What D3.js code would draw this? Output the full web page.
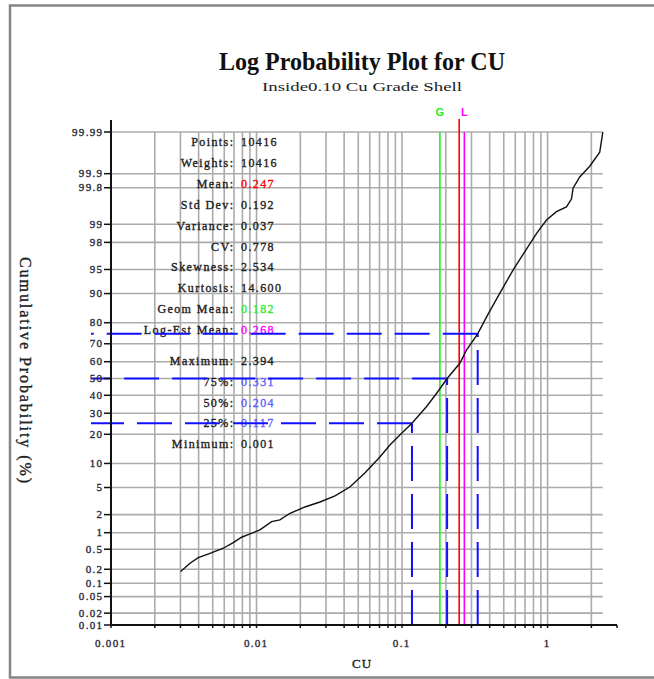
<!DOCTYPE html>
<html>
<head>
<meta charset="utf-8">
<script src="https://cdn.jsdelivr.net/npm/d3@7"></script>
<style>
  html, body { margin: 0; padding: 0; background: #fff; }
  svg { display: block; }
  text { font-family: "Liberation Serif", "Times New Roman", serif; }
  .heavy { stroke-width: 0.35; paint-order: normal; }
</style>
</head>
<body>
<svg id="chart" width="654" height="679"></svg>
<script>
// ---- data ---------------------------------------------------------------
// CU grade (x) against cumulative probability in percent (y)
const cuValues = [0.00301, 0.00349, 0.00398, 0.00479, 0.00591, 0.00692, 0.0079, 0.00901,
  0.01055, 0.0127, 0.01448, 0.017, 0.0215, 0.0273, 0.0346, 0.0438, 0.0555, 0.0704,
  0.0825, 0.0966, 0.117, 0.147, 0.173, 0.204, 0.2495, 0.277, 0.331, 0.381, 0.47,
  0.579, 0.716, 0.843, 0.983, 1.151, 1.348, 1.459, 1.497, 1.664, 1.949, 2.283, 2.38, 2.394];
const cumPercent = [0.18, 0.266, 0.344, 0.418, 0.522, 0.663, 0.831, 0.951,
  1.116, 1.54, 1.643, 2.10, 2.63, 3.12, 3.82, 5.08, 7.71, 11.8,
  15.8, 19.7, 25, 33.5, 41.2, 50, 59.1, 66.6, 75, 82.4, 90.1,
  94.9, 97.46, 98.59, 99.16, 99.41, 99.52, 99.66, 99.795, 99.882, 99.932, 99.968, 99.988, 99.99];

const probTicks = [99.99, 99.9, 99.8, 99, 98, 95, 90, 80, 70, 60, 50, 40, 30, 20, 10, 5, 2, 1, 0.5, 0.2, 0.1, 0.05, 0.02, 0.01];
const probTickLabels = ["99.99", "99.9", "99.8", "99", "98", "95", "90", "80", "70", "60", "50", "40", "30", "20", "10", "5", "2", "1", "0.5", "0.2", "0.1", "0.05", "0.02", "0.01"];
const cuTicks = [0.001, 0.01, 0.1, 1];
const cuTickLabels = ["0.001", "0.01", "0.1", "1"];

const statLabels = ["Points:", "Weights:", "Mean:", "Std Dev:", "Variance:", "CV:", "Skewness:", "Kurtosis:", "Geom Mean:", "Log-Est Mean:"];
const statValues = ["10416", "10416", "0.247", "0.192", "0.037", "0.778", "2.534", "14.600", "0.182", "0.268"];
const statColors = ["#222", "#222", "#ff0000", "#222", "#222", "#222", "#222", "#222", "#33ee33", "#ff00ff"];

const pctLabels = ["Maximum:", "75%:", "50%:", "25%:", "Minimum:"];
const pctValues = ["2.394", "0.331", "0.204", "0.117", "0.001"];
const pctColors = ["#222", "#6060ff", "#6060ff", "#6060ff", "#222"];

// quartile guide lines (value, cumulative percent)
const quartileValues = [0.117, 0.204, 0.331];
const quartilePercents = [25, 50, 75];

const meanValue = 0.247, geomMean = 0.182, logEstMean = 0.268, maxValue = 2.394;

// ---- helpers ------------------------------------------------------------
// inverse standard normal CDF (Acklam)
function probit(p) {
  const a = [-3.969683028665376e+01, 2.209460984245205e+02, -2.759285104469687e+02, 1.383577518672690e+02, -3.066479806614716e+01, 2.506628277459239e+00];
  const b = [-5.447609879822406e+01, 1.615858368580409e+02, -1.556989798598866e+02, 6.680131188771972e+01, -1.328068155288572e+01];
  const c = [-7.784894002430293e-03, -3.223964580411365e-01, -2.400758277161838e+00, -2.549732539343734e+00, 4.374664141464968e+00, 2.938163982698783e+00];
  const d = [7.784695709041462e-03, 3.224671290700398e-01, 2.445134137142996e+00, 3.754408661907416e+00];
  const pl = 0.02425, ph = 1 - pl;
  let q, r;
  if (p < pl) {
    q = Math.sqrt(-2 * Math.log(p));
    return (((((c[0]*q+c[1])*q+c[2])*q+c[3])*q+c[4])*q+c[5]) / ((((d[0]*q+d[1])*q+d[2])*q+d[3])*q+1);
  } else if (p <= ph) {
    q = p - 0.5; r = q * q;
    return (((((a[0]*r+a[1])*r+a[2])*r+a[3])*r+a[4])*r+a[5])*q / (((((b[0]*r+b[1])*r+b[2])*r+b[3])*r+b[4])*r+1);
  } else {
    q = Math.sqrt(-2 * Math.log(1 - p));
    return -(((((c[0]*q+c[1])*q+c[2])*q+c[3])*q+c[4])*q+c[5]) / ((((d[0]*q+d[1])*q+d[2])*q+d[3])*q+1);
  }
}

// ---- layout -------------------------------------------------------------
const svg = d3.select("#chart");
const plotLeft = 111, plotRight = 617, plotTop = 132, plotBottom = 625;
const guideLeft = 91;

const x = d3.scaleLog().domain([0.001, 3]).range([plotLeft, plotRight]);
const zScale = d3.scaleLinear().domain([probit(0.0001), probit(0.9999)]).range([plotBottom, plotTop]);
const y = pct => zScale(probit(pct / 100));

// window frame
svg.append("rect").attr("x", 10).attr("y", 5.5).attr("width", 700).attr("height", 672)
  .attr("fill", "#fff").attr("stroke", "#858585").attr("stroke-width", 2.5);

// title
svg.append("text").attr("x", 362).attr("y", 70).attr("text-anchor", "middle")
  .attr("font-size", 25).attr("font-weight", "bold").attr("fill", "#111")
  .attr("textLength", 286).attr("lengthAdjust", "spacingAndGlyphs")
  .text("Log Probability Plot for CU");
svg.append("text").attr("x", 362).attr("y", 91).attr("text-anchor", "middle")
  .attr("font-size", 13).attr("fill", "#222")
  .attr("textLength", 200).attr("lengthAdjust", "spacingAndGlyphs")
  .text("Inside0.10 Cu Grade Shell");

const gridRight = x(maxValue);
const gridColor = "#ababab";

// vertical grid lines
const vGrid = x.ticks().filter(v => v > 0.001 && v <= maxValue * 1.0001);
svg.append("g").selectAll("line").data(vGrid).join("line")
  .attr("x1", d => x(d)).attr("x2", d => x(d))
  .attr("y1", plotTop).attr("y2", plotBottom)
  .attr("stroke", gridColor).attr("stroke-width", 1.6);

// horizontal grid lines
svg.append("g").selectAll("line").data(probTicks.filter(p => p > 0.01)).join("line")
  .attr("x1", plotLeft).attr("x2", gridRight)
  .attr("y1", d => y(d)).attr("y2", d => y(d))
  .attr("stroke", gridColor).attr("stroke-width", 1.6);

// statistics table
const ls = 1.4;
const statG = svg.append("g").attr("font-size", 12).attr("letter-spacing", ls);
function statRow(lab, val, col, yy) {
  statG.append("text").attr("x", 233 + ls).attr("y", yy).attr("text-anchor", "end")
    .attr("fill", "#222").attr("stroke", "#222").attr("class", "heavy").text(lab);
  statG.append("text").attr("x", 241).attr("y", yy)
    .attr("fill", col).attr("stroke", col).attr("class", "heavy").text(val);
}
statLabels.forEach((lab, i) => statRow(lab, statValues[i], statColors[i], 142 + i * 20.9 + 4));
pctLabels.forEach((lab, i) => statRow(lab, pctValues[i], pctColors[i], 361 + i * 20.8 + 4));

// mean markers
svg.append("line").attr("x1", x(geomMean)).attr("x2", x(geomMean)).attr("y1", plotTop).attr("y2", plotBottom)
  .attr("stroke", "#22ee22").attr("stroke-width", 1.6);
svg.append("line").attr("x1", x(meanValue)).attr("x2", x(meanValue)).attr("y1", 119).attr("y2", plotBottom)
  .attr("stroke", "#ff0000").attr("stroke-width", 1.6);
svg.append("line").attr("x1", x(logEstMean)).attr("x2", x(logEstMean)).attr("y1", plotTop).attr("y2", plotBottom)
  .attr("stroke", "#ff00ff").attr("stroke-width", 1.6);
svg.append("text").attr("x", x(geomMean)).attr("y", 116).attr("text-anchor", "middle")
  .attr("font-size", 11).attr("font-weight", "bold")
  .attr("fill", "#22ee22").style("font-family", "Liberation Sans, sans-serif").text("G");
svg.append("text").attr("x", x(logEstMean)).attr("y", 116).attr("text-anchor", "middle")
  .attr("font-size", 11).attr("font-weight", "bold")
  .attr("fill", "#ff00ff").style("font-family", "Liberation Sans, sans-serif").text("L");

// quartile guide lines: vertical from the axis up, horizontal from the curve leftwards
const qG = svg.append("g").attr("stroke", "#1010ff").attr("stroke-width", 2).attr("fill", "none")
  .attr("stroke-dasharray", "35,13");
quartileValues.forEach((v, i) => {
  const px = x(v), py = y(quartilePercents[i]);
  qG.append("line").attr("x1", px).attr("y1", plotBottom).attr("x2", px).attr("y2", py);
  qG.append("line").attr("x1", px).attr("y1", py).attr("x2", guideLeft).attr("y2", py);
});

// cumulative curve
const line = d3.line().x((d, i) => x(cuValues[i])).y((d, i) => y(cumPercent[i]));
svg.append("path").datum(cuValues).attr("d", line)
  .attr("fill", "none").attr("stroke", "#111").attr("stroke-width", 1.4);

// axes
const tls = 1.3;
const tickColor = "#2a2a3a";
const yAxis = svg.append("g");
yAxis.append("line").attr("x1", plotLeft).attr("x2", plotLeft).attr("y1", 120).attr("y2", plotBottom + 1)
  .attr("stroke", "#111").attr("stroke-width", 2);
yAxis.selectAll(".tk").data(probTicks).join("line").attr("class", "tk")
  .attr("x1", plotLeft - 7).attr("x2", plotLeft).attr("y1", d => y(d)).attr("y2", d => y(d))
  .attr("stroke", "#111").attr("stroke-width", 1.5);
yAxis.selectAll("text").data(probTicks).join("text")
  .attr("x", 102 + tls).attr("y", d => y(d) + 3.5).attr("text-anchor", "end")
  .attr("font-size", 11).attr("letter-spacing", tls)
  .attr("fill", tickColor).attr("stroke", tickColor).attr("class", "heavy")
  .text((d, i) => probTickLabels[i]);

const xAxis = svg.append("g");
xAxis.append("line").attr("x1", plotLeft).attr("x2", plotRight).attr("y1", plotBottom).attr("y2", plotBottom)
  .attr("stroke", "#111").attr("stroke-width", 2);
xAxis.selectAll(".tk").data(x.ticks().filter(v => v <= 3)).join("line").attr("class", "tk")
  .attr("x1", d => x(d)).attr("x2", d => x(d)).attr("y1", plotBottom).attr("y2", plotBottom + 3)
  .attr("stroke", "#111").attr("stroke-width", 1.5);
xAxis.selectAll("text").data(cuTicks).join("text")
  .attr("x", d => x(d) + tls / 2 - 1).attr("y", 647).attr("text-anchor", "middle")
  .attr("font-size", 11).attr("letter-spacing", tls)
  .attr("fill", tickColor).attr("stroke", tickColor).attr("class", "heavy")
  .text((d, i) => cuTickLabels[i]);

// axis titles
svg.append("text").attr("x", 362).attr("y", 668).attr("text-anchor", "middle")
  .attr("font-size", 13).attr("fill", "#222").attr("stroke", "#222").attr("class", "heavy")
  .attr("letter-spacing", 1).text("CU");
svg.append("text").attr("transform", "translate(20,370) rotate(90)").attr("text-anchor", "middle")
  .attr("font-size", 16).attr("fill", "#222").attr("stroke", "#222").attr("class", "heavy")
  .attr("textLength", 226).attr("lengthAdjust", "spacing")
  .text("Cumulative Probability (%)");
</script>
</body>
</html>
